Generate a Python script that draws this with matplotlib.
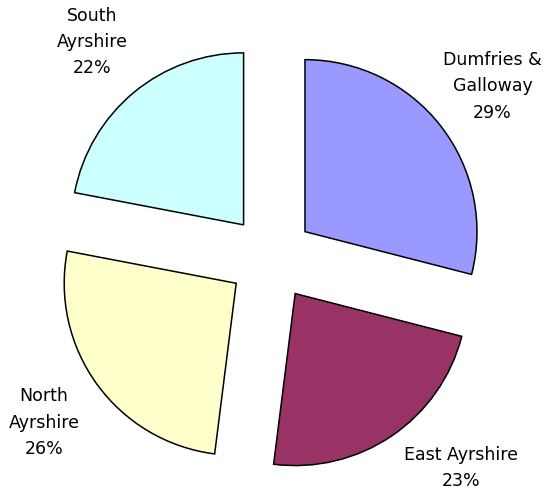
import matplotlib.pyplot as plt

# Data
regions = ['Dumfries &\nGalloway', 'East Ayrshire', 'North\nAyrshire', 'South\nAyrshire']
shares = [29, 23, 26, 22]
colors = ['#9999FF', '#993366', '#FFFFCC', '#CCFFFF']

fig = plt.figure(figsize=(5.53, 4.91), dpi=100)
ax = fig.add_axes([0, 0, 1, 1])

labels = ['%s\n%d%%' % (r, s) for r, s in zip(regions, shares)]
# explode is in data units here (the axes are laid out in pixels)
wedges, texts = ax.pie(shares, colors=colors, startangle=90, counterclock=False,
                       center=(271, 233), radius=172, explode=[43] * 4,
                       labels=labels, labeldistance=1.38,
                       wedgeprops=dict(edgecolor='black', linewidth=1.1),
                       textprops=dict(fontsize=12.5, linespacing=1.6))
for t in texts:
    t.set_horizontalalignment('center')
    t.set_verticalalignment('center')

# Excel nudges the East Ayrshire label in from the bottom edge
texts[1].set_position((461, 491 - 468))

# pie() resets the limits, so fix the pixel-like frame afterwards
ax.set_xlim(0, 553)
ax.set_ylim(0, 491)
ax.set_aspect('equal')
ax.axis('off')

plt.savefig('out.png', dpi=100)
plt.close()
